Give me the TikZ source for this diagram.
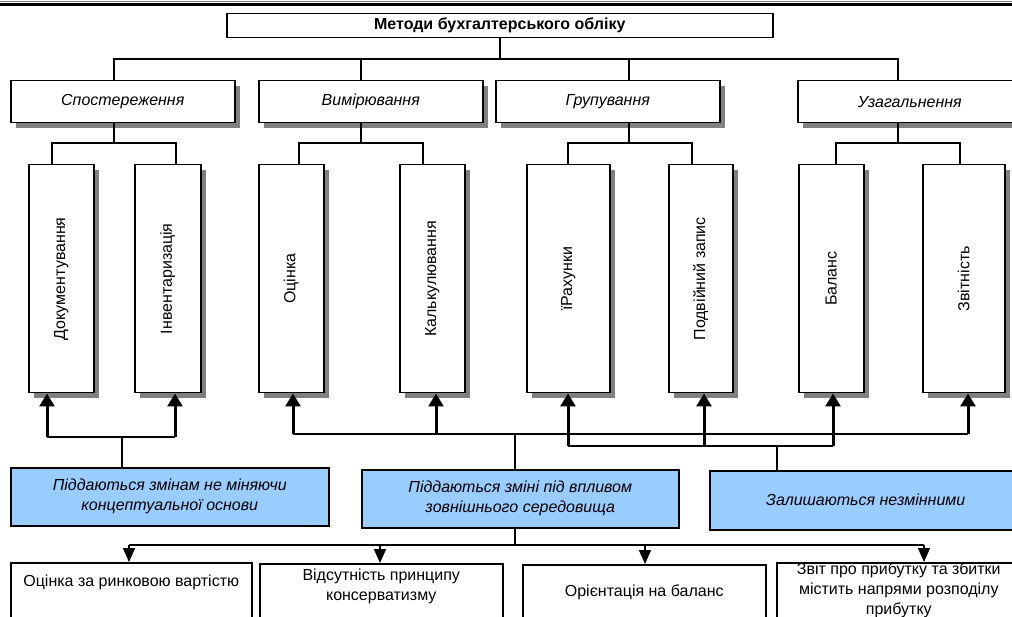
\documentclass[tikz,border=0pt]{standalone}
\usepackage{fontspec}
\setmainfont{Liberation Sans}
\usepackage{graphicx}
\usetikzlibrary{arrows.meta,shadows}
\definecolor{paleblue}{HTML}{99CCFF}
\newcommand\bodysize{\fontsize{16}{20}\selectfont}

\begin{document}
\begin{tikzpicture}[x=1pt,y=-1pt,
    boxshadow/.style={drop shadow={shadow xshift=5pt,shadow yshift=-5pt,fill=gray,opacity=1}},
    headbox/.style={draw,line width=1.5pt,fill=white,anchor=north west,inner sep=0,
      minimum width=546,minimum height=24,font=\bodysize\bfseries},
    groupbox/.style={draw,line width=1.5pt,fill=white,anchor=north west,inner sep=0,
      minimum width=224,minimum height=42,font=\bodysize\itshape,boxshadow},
    methodbox/.style={draw,line width=1.5pt,fill=white,anchor=north west,inner sep=0,
      minimum width=#1,minimum height=228,font=\bodysize,boxshadow},
    bluebox/.style={draw,line width=1.5pt,fill=paleblue,anchor=north west,inner sep=0,
      align=center,minimum width=#1,minimum height=58,font=\bodysize\itshape},
    outbox/.style={draw,line width=1.5pt,fill=white,anchor=north west,inner sep=0,
      align=center,minimum width=#1,minimum height=56,font=\bodysize},
    link/.style={line width=1.5pt},
    uparr/.style={line width=3pt,-{Triangle[length=13pt,width=15pt]}},
    downarr/.style={line width=1.5pt,-{Triangle[length=14pt,width=12pt]}}]

  \clip (0,0) rectangle (1012,617);
  \fill[white] (0,0) rectangle (1012,617);
  \draw[gray,line width=1pt] (0,1.2) -- (1012,1.2);
  \draw[line width=2.7pt] (0,4.7) -- (1012,4.7);

  \node[headbox] (title) at (226,13) {Методи бухгалтерського обліку};

  \node[groupbox] (spost) at (10,80) {Спостереження};
  \node[groupbox] (vymir) at (258,80) {Вимірювання};
  \node[groupbox] (grup) at (495,80) {Групування};
  \node[groupbox] (uzag) at (797,80) {Узагальнення};

  \node[methodbox=65] (doc) at (28,164) {\rotatebox{90}{Документування}};
  \node[methodbox=66] (inv) at (134,164) {\rotatebox{90}{Інвентаризація}};
  \node[methodbox=65] (ots) at (258,164) {\rotatebox{90}{Оцінка}};
  \node[methodbox=65] (kalk) at (399,164) {\rotatebox{90}{Калькулювання}};
  \node[methodbox=83] (rakh) at (526,164) {\rotatebox{90}{їРахунки}};
  \node[methodbox=64] (podv) at (668,164) {\rotatebox{90}{Подвійний запис}};
  \node[methodbox=65] (bal) at (798,164) {\rotatebox{90}{Баланс}};
  \node[methodbox=82] (zvit) at (922,164) {\rotatebox{90}{Звітність}};

  \node[bluebox=318] (b1) at (10,467) {Піддаються змінам не міняючи\\концептуальної основи};
  \node[bluebox=317] (b2) at (361,469) {Піддаються зміні під впливом\\зовнішнього середовища};
  \node[bluebox=312,minimum height=59] (b3) at (709,470) {Залишаються незмінними};

  \node[outbox=241,text depth=20pt] (o1) at (10,562) {Оцінка за ринковою вартістю};
  \node[outbox=243,text depth=14pt] (o2) at (259,563) {Відсутність принципу\\консерватизму};
  \node[outbox=243] (o3) at (522,564) {Орієнтація на баланс};
  \node[outbox=244] (o4) at (776,562) {Звіт про прибутку та збитки\\містить напрями розподілу\\прибутку};

  \coordinate (t1) at (114,59);
  \coordinate (t2) at (361,59);
  \coordinate (t3) at (629,59);
  \coordinate (t4) at (898,59);
  \draw[link] (title.south) -- (title.south |- t1);
  \draw[link] (t1 |- spost.north) -- (t1) -- (t4) -- (t4 |- uzag.north);
  \draw[link] (t2) -- (t2 |- vymir.north);
  \draw[link] (t3) -- (t3 |- grup.north);

  \coordinate (g1) at (114,143);
  \coordinate (g2) at (361,143);
  \coordinate (g3) at (629,143);
  \coordinate (g4) at (898,143);
  \coordinate (c1) at (52,143);
  \coordinate (c2) at (176,143);
  \coordinate (c3) at (299,143);
  \coordinate (c4) at (423,143);
  \coordinate (c5) at (568,143);
  \coordinate (c6) at (692,143);
  \coordinate (c7) at (836,143);
  \coordinate (c8) at (960,143);
  \draw[link] (spost.south -| g1) -- (g1);
  \draw[link] (vymir.south -| g2) -- (g2);
  \draw[link] (grup.south -| g3) -- (g3);
  \draw[link] (uzag.south -| g4) -- (g4);
  \draw[link] (c1 |- doc.north) -- (c1) -- (c2) -- (c2 |- inv.north);
  \draw[link] (c3 |- ots.north) -- (c3) -- (c4) -- (c4 |- kalk.north);
  \draw[link] (c5 |- rakh.north) -- (c5) -- (c6) -- (c6 |- podv.north);
  \draw[link] (c7 |- bal.north) -- (c7) -- (c8) -- (c8 |- zvit.north);

  \coordinate (a1) at (47,437);
  \coordinate (a2) at (175,437);
  \coordinate (a3) at (293,434);
  \coordinate (a4) at (436,434);
  \coordinate (a5) at (568,446);
  \coordinate (a6) at (704,446);
  \coordinate (a7) at (833,446);
  \coordinate (a8) at (968,434);
  \coordinate (s1) at (122,437);
  \coordinate (s2) at (515,434);
  \coordinate (s3) at (777,446);
  \draw[link] (a1) -- (a2);
  \draw[link] (a3) -- (a8);
  \draw[link] (a5) -- (a7);
  \draw[link] (s1) -- (s1 |- b1.north);
  \draw[link] (s2) -- (s2 |- b2.north);
  \draw[link] (s3) -- (s3 |- b3.north);
  \draw[uparr] (a1) -- (a1 |- doc.south);
  \draw[uparr] (a2) -- (a2 |- inv.south);
  \draw[uparr] (a3) -- (a3 |- ots.south);
  \draw[uparr] (a4) -- (a4 |- kalk.south);
  \draw[uparr] (a5) -- (a5 |- rakh.south);
  \draw[uparr] (a6) -- (a6 |- podv.south);
  \draw[uparr] (a7) -- (a7 |- bal.south);
  \draw[uparr] (a8) -- (a8 |- zvit.south);

  \coordinate (s4) at (515,545);
  \coordinate (d1) at (129,545);
  \coordinate (d2) at (380,545);
  \coordinate (d3) at (645,545);
  \coordinate (d4) at (924,545);
  \draw[link] (b2.south -| s4) -- (s4);
  \draw[link] (d1) -- (d4);
  \draw[downarr] (d1) -- (d1 |- o1.north);
  \draw[downarr] (d2) -- (d2 |- o2.north);
  \draw[downarr] (d3) -- (d3 |- o3.north);
  \draw[downarr] (d4) -- (d4 |- o4.north);
\end{tikzpicture}
\end{document}
